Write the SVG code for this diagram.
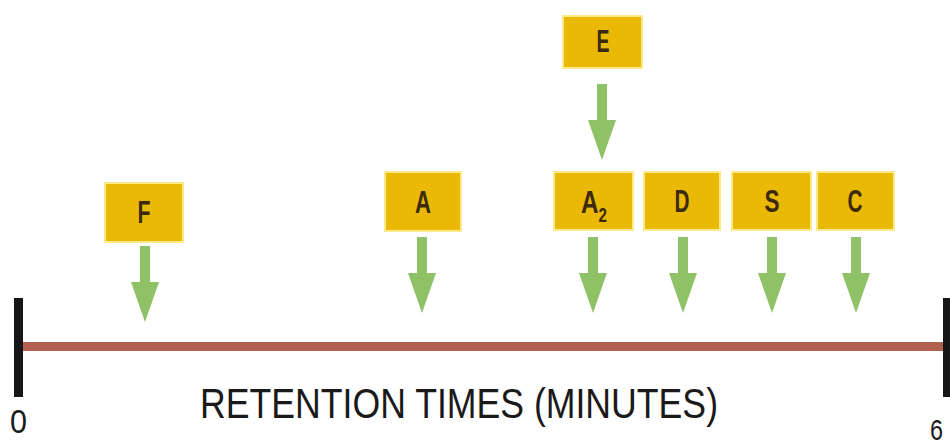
<svg xmlns="http://www.w3.org/2000/svg" width="950" height="444" viewBox="0 0 950 444">
<style>
.box{fill:#e9b906;stroke:#fbe98a;stroke-width:2}
.lbl{font-family:"Liberation Sans",Arial,sans-serif;font-size:32px;font-weight:bold;fill:#3b2a0c;text-anchor:middle}
.arr{fill:#8fc267}
.axis{font-family:"Liberation Sans",Arial,sans-serif;fill:#1a1a1a}
</style>
<defs>
<polygon id="arrow" points="-5,0 5,0 5,36 14,36 0,76 -14,36 -5,36"/>
</defs>
<g id="axis">
<rect x="23" y="342" width="922" height="9" fill="#b1614f"/>
<rect x="14" y="298" width="9" height="99" fill="#161616"/>
<rect x="943" y="298" width="9" height="99" fill="#161616"/>
<text class="axis" x="10" y="433" font-size="34" textLength="17" lengthAdjust="spacingAndGlyphs">0</text>
<text class="axis" x="930" y="440" font-size="30" textLength="13" lengthAdjust="spacingAndGlyphs">6</text>
<text class="axis" x="200" y="418" font-size="42" textLength="518" lengthAdjust="spacingAndGlyphs">RETENTION TIMES (MINUTES)</text>
</g>
<g id="connectors">
<use href="#arrow" class="arr" x="145" y="246"/>
<use href="#arrow" class="arr" x="422" y="237"/>
<use href="#arrow" class="arr" x="602" y="84"/>
<use href="#arrow" class="arr" x="593" y="237"/>
<use href="#arrow" class="arr" x="683" y="237"/>
<use href="#arrow" class="arr" x="772" y="237"/>
<use href="#arrow" class="arr" x="856" y="237"/>
</g>
<g id="node-F"><rect class="box" x="105" y="183" width="78" height="59"/><text class="lbl" x="144" y="223" textLength="13" lengthAdjust="spacingAndGlyphs">F</text></g>
<g id="node-A"><rect class="box" x="385" y="172" width="76" height="59"/><text class="lbl" x="423" y="213" textLength="16" lengthAdjust="spacingAndGlyphs">A</text></g>
<g id="node-E"><rect class="box" x="563" y="16" width="79" height="52"/><text class="lbl" x="603" y="52" textLength="13" lengthAdjust="spacingAndGlyphs">E</text></g>
<g id="node-A2"><rect class="box" x="554" y="172" width="79" height="58"/><text class="lbl" x="594" y="213" textLength="26" lengthAdjust="spacingAndGlyphs">A<tspan font-size="20" dy="9">2</tspan></text></g>
<g id="node-D"><rect class="box" x="644" y="172" width="76" height="58"/><text class="lbl" x="682" y="212" textLength="15" lengthAdjust="spacingAndGlyphs">D</text></g>
<g id="node-S"><rect class="box" x="732" y="172" width="79" height="58"/><text class="lbl" x="772" y="212" textLength="15" lengthAdjust="spacingAndGlyphs">S</text></g>
<g id="node-C"><rect class="box" x="817" y="172" width="77" height="58"/><text class="lbl" x="855" y="212" textLength="15" lengthAdjust="spacingAndGlyphs">C</text></g>
</svg>
